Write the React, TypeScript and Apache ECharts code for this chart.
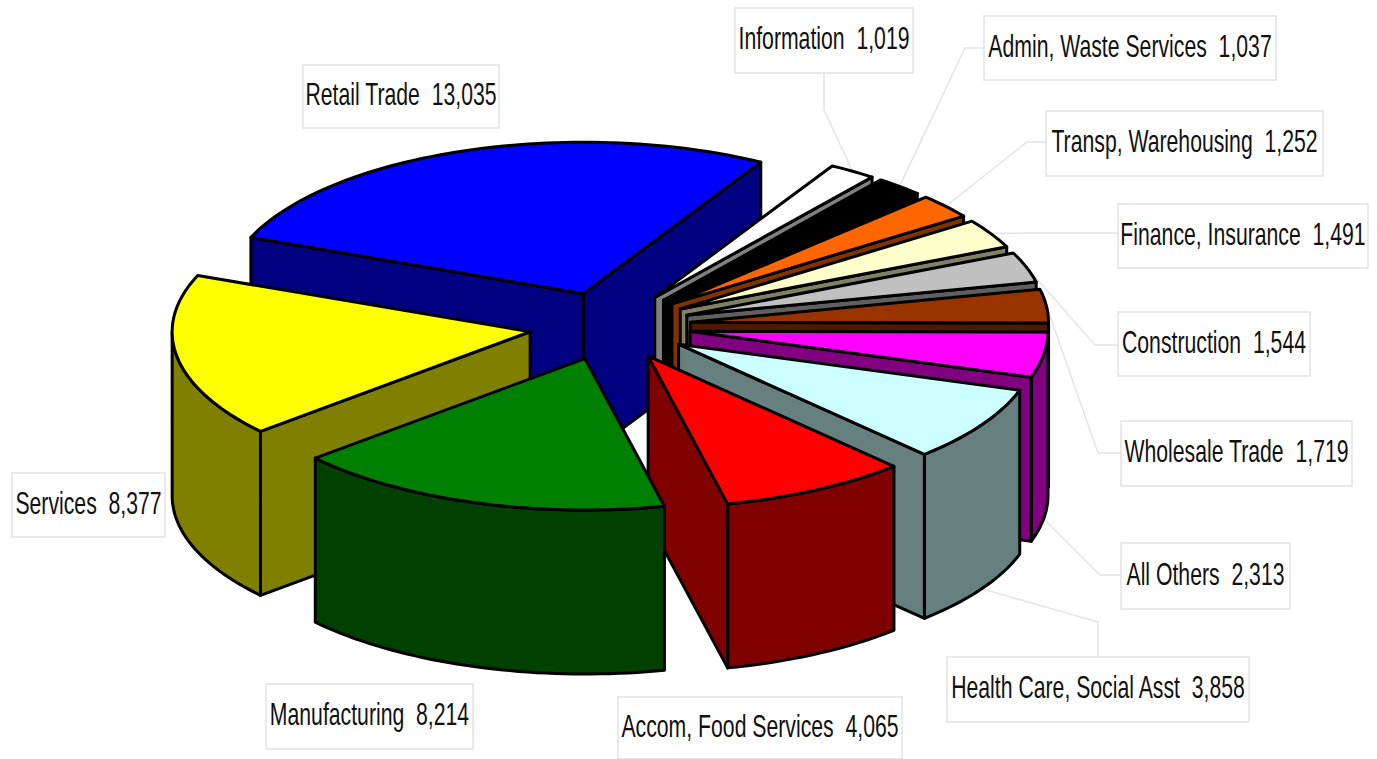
import React, { useEffect, useRef } from "react";
import * as echarts from "echarts";

// Clockwise from the top-left edge of the largest slice
const categories = [
  "Retail Trade", "Information", "Admin, Waste Services", "Transp, Warehousing",
  "Finance, Insurance", "Construction", "Wholesale Trade", "All Others",
  "Health Care, Social Asst", "Accom, Food Services", "Manufacturing", "Services",
];
const values = [13035, 1019, 1037, 1252, 1491, 1544, 1719, 2313, 3858, 4065, 8214, 8377];
const topColors = ["#0000FF", "#FFFFFF", "#000000", "#FF6600", "#FFFFCC", "#C0C0C0", "#993300", "#FF00FF", "#CCFFFF", "#FF0000", "#008000", "#FFFF00"];
const sideColors = ["#000080", "#808080", "#000000", "#803300", "#808066", "#606060", "#4D1A00", "#800080", "#668080", "#800000", "#004000", "#808000"];
const drawOrder = [0, 11, 1, 2, 3, 4, 5, 6, 7, 8, 9, 10];

// Label boxes: x, y, w, h
const boxes = [
  [303, 65, 196, 63], [735, 8, 178, 65], [984, 16, 292, 64], [1046, 111, 277, 65],
  [1118, 204, 250, 64], [1118, 312, 192, 64], [1121, 421, 231, 65], [1121, 543, 169, 66],
  [947, 657, 302, 65], [618, 697, 284, 62], [266, 684, 207, 65], [12, 473, 153, 64],
];
// Leader paths from box to elbow; the far end is found on the slice's rim
const leaderStarts: (number[][] | null)[] = [
  null, [[824, 73], [824, 110]], [[984, 48], [965, 48]], [[1046, 142], [1027, 142]],
  [[1118, 233], [1030, 233]], [[1118, 345], [1095, 345]], [[1121, 453], [1098, 453]], [[1121, 575], [1100, 575]],
  [[1098, 657], [1098, 622]], null, null, null,
];

const CX = 610, CY = 326, R = 358, K = 0.423, EXPLODE = 81, DEPTH = 164;
const START = 291.8;
const leaderDrop = [0, 0, 0, 0, 0, 0, 0, DEPTH, DEPTH, 0, 0, 0];
const total = values.reduce((a, b) => a + b, 0);

const angles: number[][] = [];
values.reduce((acc, v) => {
  const span = (v / total) * 360;
  angles.push([acc, acc + span]);
  return acc + span;
}, START);

const rad = (d: number) => (d * Math.PI) / 180;
const apexOf = (i: number) => {
  const mid = rad((angles[i][0] + angles[i][1]) / 2);
  return [CX + EXPLODE * Math.sin(mid), CY - EXPLODE * K * Math.cos(mid)];
};
const rim = (apex: number[], deg: number, drop = 0) => [
  apex[0] + R * Math.sin(rad(deg)),
  apex[1] - R * K * Math.cos(rad(deg)) + drop,
];
const arcPoints = (apex: number[], a: number, b: number, drop = 0) => {
  const pts: number[][] = [];
  const n = Math.max(2, Math.ceil((b - a) / 1.5));
  for (let j = 0; j <= n; j++) pts.push(rim(apex, a + ((b - a) * j) / n, drop));
  return pts;
};

const edge = { stroke: "#000000", lineWidth: 3, lineJoin: "round" as const };

function renderSlice(params: any) {
  const i = drawOrder[params.dataIndex];
  const [a, b] = angles[i];
  const apex = apexOf(i);
  const side = sideColors[i];
  const children: any[] = [];
  const wall = (p: number[][]) =>
    children.push({ type: "polygon", shape: { points: p }, style: { fill: side, ...edge } });

  // Outer wall: only the part of the rim that faces the viewer (90°..270°, also +360)
  for (const shift of [0, 360]) {
    const from = Math.max(a, 90 + shift);
    const to = Math.min(b, 270 + shift);
    if (to > from) {
      const top = arcPoints(apex, from, to);
      const bottom = arcPoints(apex, from, to, DEPTH).reverse();
      wall([...top, ...bottom]);
    }
  }
  // Radial cut faces, when they face the viewer
  const radial = (deg: number) => {
    const e = rim(apex, deg);
    wall([apex, e, [e[0], e[1] + DEPTH], [apex[0], apex[1] + DEPTH]]);
  };
  if (-Math.sin(rad(a)) > 0) radial(a);
  if (Math.sin(rad(b)) > 0) radial(b);
  // Top face
  children.push({
    type: "polygon",
    shape: { points: [apex, ...arcPoints(apex, a, b)] },
    style: { fill: topColors[i], ...edge },
  });
  return { type: "group", children };
}

function renderLabel(params: any, api: any) {
  const i = params.dataIndex;
  const [x, y, w, h] = boxes[i];
  const children: any[] = [];
  const start = leaderStarts[i];
  if (start) {
    const mid = (angles[i][0] + angles[i][1]) / 2;
    const end = rim(apexOf(i), mid, leaderDrop[i]);
    children.push({
      type: "polyline",
      shape: { points: [...start, end] },
      style: { stroke: "#E4E4E4", lineWidth: 1.5, fill: "none" },
    });
  }
  children.push({
    type: "rect",
    shape: { x, y, width: w, height: h },
    style: { fill: "#FFFFFF", stroke: "#E2E2E2", lineWidth: 1.5 },
  });
  children.push({
    type: "text",
    x: x + w / 2,
    y: y + h / 2 - 2,
    scaleX: 0.685,
    style: {
      text: `${categories[i]}  ${api.value(0).toLocaleString("en-US")}`,
      fill: "#111111",
      font: '31px "Liberation Sans"',
      textAlign: "center",
      textVerticalAlign: "middle",
    },
  });
  return { type: "group", children };
}

export default function App() {
  const ref = useRef<HTMLDivElement>(null);
  useEffect(() => {
    document.body.style.margin = "0";
    const chart = echarts.init(ref.current!, undefined, { renderer: "svg" });
    chart.setOption({
      animation: false,
      backgroundColor: "#FFFFFF",
      series: [
        {
          type: "custom",
          coordinateSystem: "none",
          z: 1,
          silent: true,
          renderItem: renderLabel,
          data: values.map((v, i) => ({ name: categories[i], value: [v] })),
        },
        {
          type: "custom",
          coordinateSystem: "none",
          z: 2,
          silent: true,
          renderItem: renderSlice,
          data: drawOrder.map((i) => ({ name: categories[i], value: [values[i]] })),
        },
      ],
    });
    return () => chart.dispose();
  }, []);
  return <div ref={ref} style={{ width: 1377, height: 759, overflow: "hidden" }} />;
}
